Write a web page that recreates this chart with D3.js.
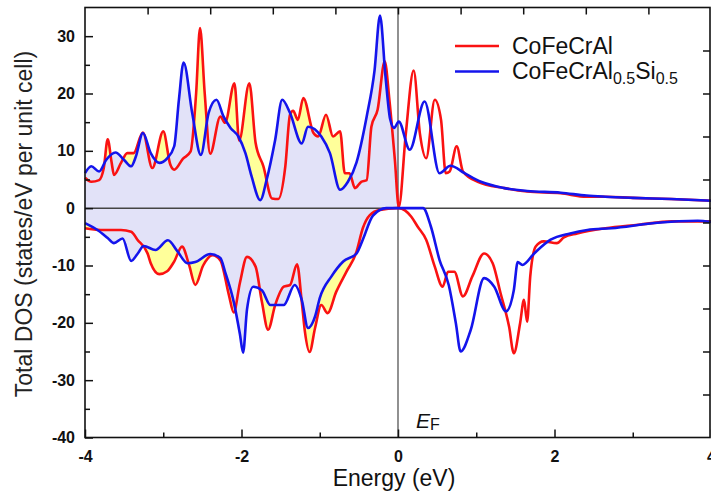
<!DOCTYPE html>
<html>
<head>
<meta charset="utf-8">
<script src="https://cdn.jsdelivr.net/npm/d3@7"></script>
<style>
  html, body { margin: 0; padding: 0; background: #fff; }
  svg { display: block; font-family: Arial, "Liberation Sans", sans-serif; }
  .tick text { font-weight: bold; font-size: 16px; fill: #111; }
  .tick line { stroke: #111; stroke-width: 1.5; }
</style>
</head>
<body>
<svg id="chart" width="711" height="495"></svg>
<script>
// series labels
const seriesNames = ['CoFeCrAl', 'CoFeCrAl0.5Si0.5'];

// [energy (eV), DOS] spin up, CoFeCrAl
const upRed = [
  [-4.00, 5.3], [-3.92, 4.6], [-3.82, 4.9], [-3.76, 7.0], [-3.71, 12.0], [-3.66, 8.0], [-3.63, 5.8],
  [-3.54, 7.9], [-3.46, 9.6], [-3.38, 9.6], [-3.26, 13.2], [-3.14, 7.0], [-3.00, 13.4], [-2.91, 7.6],
  [-2.86, 6.7], [-2.75, 8.6], [-2.65, 9.9], [-2.58, 20.0], [-2.53, 31.4], [-2.47, 20.0], [-2.40, 9.5],
  [-2.27, 16.0], [-2.21, 14.9], [-2.09, 21.8], [-2.03, 11.8], [-1.90, 21.8], [-1.82, 11.4], [-1.72, 7.3],
  [-1.61, 1.7], [-1.53, 1.6], [-1.44, 7.3], [-1.38, 16.3], [-1.34, 17.0], [-1.28, 15.4], [-1.21, 19.2],
  [-1.08, 13.1], [-1.02, 12.5], [-0.92, 16.3], [-0.83, 12.5], [-0.74, 13.4], [-0.68, 6.1], [-0.62, 6.1],
  [-0.55, 3.5], [-0.47, 4.6], [-0.40, 4.9], [-0.34, 14.2], [-0.26, 17.2], [-0.17, 25.6], [-0.11, 18.9],
  [-0.04, 8.4], [0.01, 0.2], [0.10, 13.0], [0.20, 24.0], [0.28, 13.0], [0.36, 8.7], [0.47, 18.9],
  [0.55, 15.4], [0.61, 6.1], [0.66, 6.4], [0.75, 10.8], [0.83, 6.4], [1.02, 4.6], [1.36, 3.5],
  [1.65, 2.9], [2.08, 2.6], [2.41, 2.0], [2.65, 2.0], [3.00, 1.8], [3.49, 1.6], [4.00, 1.3]
];

// spin up, CoFeCrAl0.5Si0.5
const upBlue = [
  [-4.00, 6.1], [-3.92, 7.3], [-3.82, 6.4], [-3.73, 8.4], [-3.61, 9.7], [-3.50, 8.4], [-3.41, 7.3],
  [-3.35, 9.0], [-3.26, 13.1], [-3.16, 9.6], [-3.05, 7.9], [-2.95, 8.7], [-2.86, 10.8], [-2.80, 18.9],
  [-2.74, 25.4], [-2.63, 16.6], [-2.52, 9.3], [-2.42, 16.6], [-2.32, 18.9], [-2.23, 16.0], [-2.14, 14.0],
  [-2.04, 12.5], [-1.95, 9.6], [-1.87, 5.5], [-1.76, 1.4], [-1.68, 4.9], [-1.57, 11.9], [-1.48, 18.9],
  [-1.38, 16.6], [-1.23, 11.3], [-1.15, 14.2], [-0.98, 12.5], [-0.87, 9.6], [-0.74, 3.2], [-0.64, 4.6],
  [-0.53, 8.0], [-0.40, 16.0], [-0.30, 24.0], [-0.23, 33.6], [-0.16, 23.0], [-0.10, 15.5], [-0.05, 14.0],
  [0.01, 15.1], [0.15, 10.2], [0.34, 18.6], [0.53, 6.1], [0.67, 7.4], [0.85, 6.1], [1.06, 4.6],
  [1.36, 3.5], [1.65, 3.0], [2.08, 2.7], [2.41, 2.2], [2.65, 2.0], [3.00, 1.8], [3.49, 1.6], [4.00, 1.3]
];

// spin down, CoFeCrAl
const downRed = [
  [-4.00, -3.5], [-3.80, -3.8], [-3.54, -3.8], [-3.41, -4.1], [-3.33, -5.5], [-3.20, -7.9], [-3.16, -9.6],
  [-3.05, -11.5], [-2.95, -11.0], [-2.86, -9.3], [-2.76, -6.7], [-2.67, -9.9], [-2.59, -13.4], [-2.49, -10.0],
  [-2.37, -8.2], [-2.27, -9.1], [-2.16, -15.2], [-2.10, -18.2], [-2.02, -13.0], [-1.93, -8.5], [-1.82, -10.2],
  [-1.74, -16.3], [-1.66, -21.2], [-1.57, -16.9], [-1.46, -13.7], [-1.38, -13.4], [-1.29, -9.8], [-1.23, -16.3],
  [-1.19, -21.5], [-1.13, -25.1], [-1.06, -20.9], [-0.98, -16.9], [-0.90, -18.3], [-0.79, -14.6], [-0.66, -11.1],
  [-0.53, -7.6], [-0.45, -3.5], [-0.36, -1.2], [-0.23, -0.3], [-0.02, 0.0], [0.01, 0.0], [0.17, -1.5],
  [0.25, -3.2], [0.36, -5.5], [0.47, -10.2], [0.57, -13.7], [0.64, -11.1], [0.72, -11.1], [0.83, -15.4],
  [0.95, -11.9], [1.10, -7.9], [1.21, -9.6], [1.31, -14.8], [1.42, -20.7], [1.48, -25.3], [1.56, -20.1],
  [1.61, -16.0], [1.65, -19.8], [1.69, -11.9], [1.76, -6.7], [1.86, -5.8], [2.03, -6.1], [2.12, -5.1],
  [2.29, -4.4], [2.65, -3.5], [3.07, -2.9], [3.50, -2.3], [4.00, -2.3]
];

// spin down, CoFeCrAl0.5Si0.5
const downBlue = [
  [-4.00, -2.6], [-3.84, -3.8], [-3.71, -5.2], [-3.63, -6.1], [-3.52, -5.3], [-3.41, -9.2], [-3.33, -8.0],
  [-3.25, -6.6], [-3.10, -7.3], [-2.94, -5.6], [-2.82, -7.5], [-2.69, -9.6], [-2.59, -9.4], [-2.40, -8.0],
  [-2.27, -8.7], [-2.21, -11.1], [-2.10, -16.3], [-2.02, -22.0], [-1.98, -25.2], [-1.93, -17.7], [-1.85, -13.7],
  [-1.74, -14.3], [-1.63, -16.9], [-1.46, -16.9], [-1.32, -13.4], [-1.23, -16.0], [-1.15, -20.9], [-1.06, -18.9],
  [-1.00, -15.7], [-0.85, -11.9], [-0.70, -9.3], [-0.53, -7.9], [-0.45, -5.5], [-0.32, -1.3], [-0.15, 0.0],
  [0.32, 0.0], [0.42, -3.2], [0.53, -9.0], [0.65, -13.5], [0.74, -20.1], [0.80, -25.0], [0.93, -21.2],
  [1.10, -12.2], [1.23, -13.7], [1.38, -18.0], [1.48, -14.3], [1.53, -9.4], [1.59, -9.9], [1.74, -7.9],
  [1.95, -5.5], [2.20, -4.4], [2.42, -3.8], [2.73, -3.5], [3.28, -2.6], [3.83, -2.2], [4.00, -2.4]
];

// tick values
const xMajor = [-4, -2, 0, 2, 4];
const xMinor = [-3, -1, 1, 3];
const xTop = [-3.2, -2.4, -1.6, -0.8, 0, 0.8, 1.6, 2.4, 3.2];
const yMajor = [-40, -30, -20, -10, 0, 10, 20, 30];
const yMinor = [-35, -25, -15, -5, 5, 15, 25];
const yRight = [-32.5, -25, -17.5, -10, -2.5, 5, 12.5, 20, 27.5];

const drawDos = () => {
  let
    margin = {top: 7.5, right: 0, bottom: 57.5, left: 85},
    W = 711,
    H = 495,
    svg = d3.select('#chart'),
    xScale = d3.scaleLinear().domain([-4, 4]).range([margin.left, W - margin.right]),
    yScale = d3.scaleLinear().domain([-40, 35]).range([H - margin.bottom, margin.top]),
    X = d => xScale(d[0]),
    Y = d => yScale(d[1]),
    line = d3.line().curve(d3.curveMonotoneX).x(X).y(Y),
    area = d3.area().curve(d3.curveMonotoneX).x(X).y0(yScale(0)).y1(Y),
    plain = d => String(d),   // keep the ascii hyphen like the original
    red = '#fa1212',
    blue = '#1414ec',
    yellow = '#ffff9a',
    lavender = '#e2e2f8'
    ;

  // fill only the occupied states (E < E_F)
  svg.append('clipPath').attr('id', 'occ')
    .append('rect')
    .attr('x', xScale(-4)).attr('y', yScale(35))
    .attr('width', xScale(0) - xScale(-4)).attr('height', yScale(-40) - yScale(35))
  ;
  let fills = svg.append('g').attr('clip-path', 'url(#occ)');
  [upRed, downRed].forEach(s => fills.append('path').attr('d', area(s)).attr('fill', yellow));
  [upBlue, downBlue].forEach(s => fills.append('path').attr('d', area(s)).attr('fill', lavender));

  // reference lines
  svg.append('line')
    .attr('x1', xScale(-4)).attr('x2', xScale(4))
    .attr('y1', yScale(0)).attr('y2', yScale(0))
    .attr('stroke', '#444').attr('stroke-width', 1.5)
  ;
  svg.append('line')
    .attr('x1', xScale(0)).attr('x2', xScale(0))
    .attr('y1', yScale(35)).attr('y2', yScale(-40))
    .attr('stroke', '#555').attr('stroke-width', 1.3)
  ;

  // curves
  [upRed, downRed].forEach(s => svg.append('path').attr('d', line(s))
    .attr('fill', 'none').attr('stroke', red).attr('stroke-width', 2.6));
  [upBlue, downBlue].forEach(s => svg.append('path').attr('d', line(s))
    .attr('fill', 'none').attr('stroke', blue).attr('stroke-width', 2.6));

  // axes, ticks inward
  const addAxis = (gen, tr) => {
    let g = svg.append('g').attr('transform', tr).call(gen);
    g.select('.domain').remove();
    return g;
  };
  let yb = yScale(-40), xl = xScale(-4), xr = xScale(4), yt = yScale(35);
  addAxis(d3.axisBottom(xScale).tickValues(xMajor).tickFormat(plain)
    .tickSizeInner(-8).tickSizeOuter(0).tickPadding(13), `translate(0,${yb})`);
  addAxis(d3.axisBottom(xScale).tickValues(xMinor).tickFormat('')
    .tickSizeInner(-5).tickSizeOuter(0), `translate(0,${yb})`);
  addAxis(d3.axisTop(xScale).tickValues(xTop).tickFormat('')
    .tickSizeInner(-7).tickSizeOuter(0), `translate(0,${yt})`);
  addAxis(d3.axisLeft(yScale).tickValues(yMajor).tickFormat(plain)
    .tickSizeInner(-8).tickSizeOuter(0).tickPadding(10), `translate(${xl},0)`);
  addAxis(d3.axisLeft(yScale).tickValues(yMinor).tickFormat('')
    .tickSizeInner(-5).tickSizeOuter(0), `translate(${xl},0)`);
  addAxis(d3.axisRight(yScale).tickValues(yRight).tickFormat('')
    .tickSizeInner(-7).tickSizeOuter(0), `translate(${xr - 1},0)`);

  svg.selectAll('.tick text').attr('font-family', null).attr('font-size', null);

  // frame
  svg.append('rect')
    .attr('x', xl).attr('y', yt)
    .attr('width', xr - xl - 1).attr('height', yb - yt)
    .attr('fill', 'none').attr('stroke', '#111').attr('stroke-width', 1.6)
  ;

  // E_F label
  let ef = svg.append('text')
    .attr('x', xScale(0) + 18).attr('y', yScale(-38.3))
    .attr('font-size', 21).attr('fill', '#111');
  ef.append('tspan').attr('font-style', 'italic').text('E');
  ef.append('tspan').attr('font-size', 16).attr('dy', 2).text('F');

  // axis titles
  svg.append('text')
    .attr('x', 394).attr('y', 486)
    .attr('text-anchor', 'middle').attr('font-size', 23).attr('fill', '#111')
    .text('Energy (eV)')
  ;
  svg.append('text')
    .attr('transform', 'translate(32,224) rotate(-90)')
    .attr('text-anchor', 'middle').attr('font-size', 23).attr('fill', '#222')
    .text('Total DOS (states/eV per unit cell)')
  ;

  // legend
  let legend = svg.append('g').attr('transform', 'translate(455,46)');
  [red, blue].forEach((c, i) => {
    legend.append('line')
      .attr('x1', 0).attr('x2', 44).attr('y1', i * 25.5).attr('y2', i * 25.5)
      .attr('stroke', c).attr('stroke-width', 2.6);
  });
  legend.append('text').attr('x', 57).attr('y', 7.5)
    .attr('font-size', 23).attr('fill', '#111').text(seriesNames[0]);
  let t2 = legend.append('text').attr('x', 57).attr('y', 33)
    .attr('font-size', 23).attr('fill', '#111');
  let parts = seriesNames[1].match(/[A-Za-z]+|[\d.]+/g);
  // parts: CoFeCrAl, 0.5, Si, 0.5
  let shift = 0;
  parts.forEach(p => {
    let sub = /^[\d.]+$/.test(p), dy = (sub ? 5 : 0) - shift;
    t2.append('tspan').attr('dy', dy).attr('font-size', sub ? 16 : 23).text(p);
    shift = sub ? 5 : 0;
  });
};

drawDos();
</script>
</body>
</html>
